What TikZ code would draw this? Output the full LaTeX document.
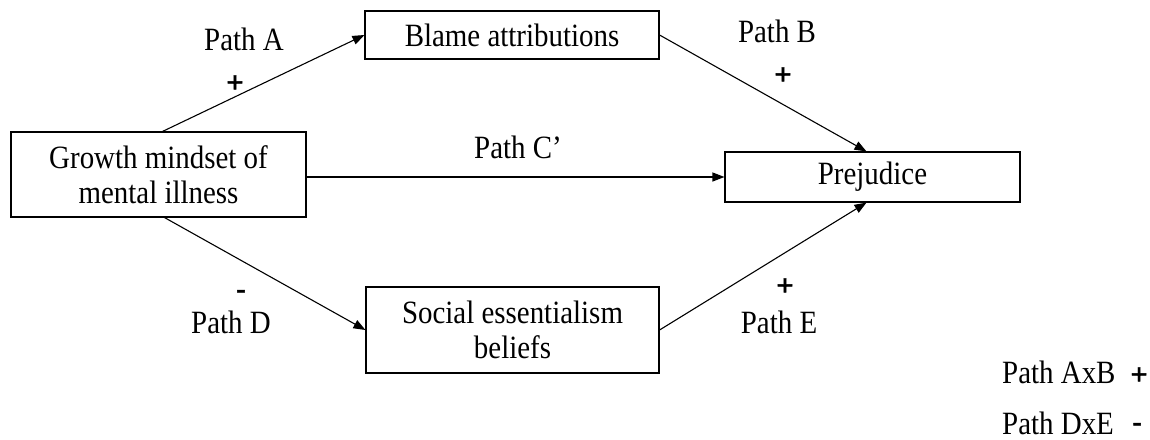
\documentclass[tikz,border=0pt]{standalone}
\usepackage{fontspec}
\setmainfont{Liberation Serif}[FakeStretch=0.89]
\newfontfamily\signfont{Liberation Sans}[FakeBold=1.5]
\usetikzlibrary{arrows.meta,calc}
\tikzset{
  box/.style={draw, line width=1.1pt, inner sep=0pt, align=center, font=\fontsize{32.5}{35.5}\selectfont},
  conn/.style={line width=1.1pt, -{Triangle[length=12pt,width=9pt]}},
  lab/.style={anchor=base, inner sep=0pt, font=\fontsize{32.5}{35.5}\selectfont},
  sign/.style={anchor=base, inner sep=0pt, font=\signfont\fontsize{29}{35}\selectfont},
}
\begin{document}
\begin{tikzpicture}[x=1pt,y=-1pt]
\useasboundingbox (0,0) rectangle (1150,439);
\node[box, minimum width=295pt, minimum height=85pt] (growth) at (158.5,174.5) {Growth mindset of\\mental illness};
\node[box, minimum width=294pt, minimum height=48pt] (blame) at (512,35) {Blame attributions};
\node[box, minimum width=295pt, minimum height=50pt] (prej) at (872.5,177) {Prejudice};
\node[box, minimum width=293pt, minimum height=86pt] (social) at (512.5,330) {Social essentialism\\beliefs};

\draw[conn] ($(growth.north)+(4,0)$) -- (blame.west);
\draw[conn] (blame.east) -- ($(prej.north)+(-6,0)$);
\draw[conn] (growth.east |- prej.west) -- (prej.west);
\draw[conn] ($(growth.south)+(6,0)$) -- (social.west);
\draw[conn] (social.east) -- ($(prej.south)+(-6,0)$);

\node[lab] (pa) at (244,50) {Path A};
\node[sign] (pa2) at (235,92) {+};
\node[lab] (pb) at (777,42) {Path B};
\node[sign] (pb2) at (783,84) {+};
\node[lab] (pc) at (518,158) {Path C’};
\node[sign] (pd2) at (241,299) {-};
\node[lab] (pd) at (231,333) {Path D};
\node[sign] (pe2) at (785,295) {+};
\node[lab] (pe) at (779,333) {Path E};
\node[lab, anchor=base west] (axb) at (1002,383) {Path AxB};
\node[sign] (axb2) at (1139,384) {+};
\node[lab, anchor=base west] (dxe) at (1002,434) {Path DxE};
\node[sign] (dxe2) at (1137,432) {-};
\end{tikzpicture}
\end{document}
